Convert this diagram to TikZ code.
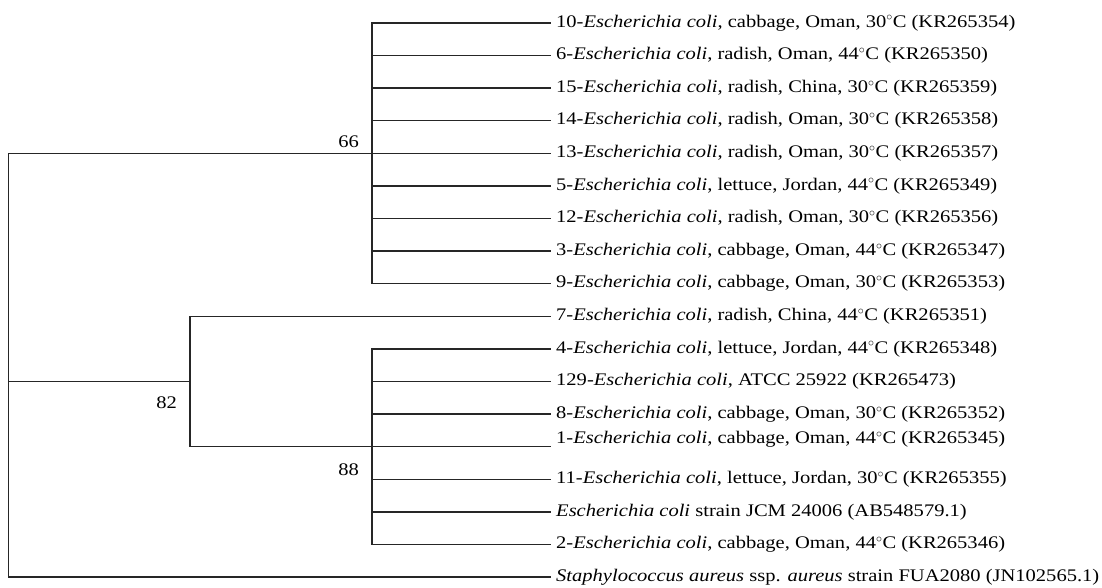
\documentclass[tikz,border=0pt]{standalone}
\usepackage{fontspec}
\setmainfont{Liberation Serif}[FakeStretch=1.16]
\usetikzlibrary{positioning}
\newcommand{\ecoli}{\textit{Escherichia coli}}
\newcommand{\degC}{$^{\circ}$C}

\begin{document}
\begin{tikzpicture}[
  x=1bp, y=-1bp,
  branch/.style={draw=black!85, line width=1.4bp},
  leaf/.style={anchor=west, inner xsep=5bp, inner ysep=0pt,
               font=\fontsize{17.7bp}{20bp}\selectfont},
  boot/.style={anchor=base east, inner sep=0pt,
               font=\fontsize{17.7bp}{20bp}\selectfont}
]
  \useasboundingbox (0,0) rectangle (1102,588);

  % ── Leaves: upper cluster ──
  \node[leaf] (l10) at (551, 22.9) {10-\ecoli, cabbage, Oman, 30\degC\ (KR265354)};
  \node[leaf] (l6)  at (551, 55.5) {6-\ecoli, radish, Oman, 44\degC\ (KR265350)};
  \node[leaf] (l15) at (551, 88.1) {15-\ecoli, radish, China, 30\degC\ (KR265359)};
  \node[leaf] (l14) at (551,120.7) {14-\ecoli, radish, Oman, 30\degC\ (KR265358)};
  \node[leaf] (l13) at (551,153.3) {13-\ecoli, radish, Oman, 30\degC\ (KR265357)};
  \node[leaf] (l5)  at (551,185.9) {5-\ecoli, lettuce, Jordan, 44\degC\ (KR265349)};
  \node[leaf] (l12) at (551,218.5) {12-\ecoli, radish, Oman, 30\degC\ (KR265356)};
  \node[leaf] (l3)  at (551,251.1) {3-\ecoli, cabbage, Oman, 44\degC\ (KR265347)};
  \node[leaf] (l9)  at (551,283.7) {9-\ecoli, cabbage, Oman, 30\degC\ (KR265353)};

  % ── Leaves: lower cluster ──
  \node[leaf] (l7)   at (551,316.3) {7-\ecoli, radish, China, 44\degC\ (KR265351)};
  \node[leaf] (l4)   at (551,348.9) {4-\ecoli, lettuce, Jordan, 44\degC\ (KR265348)};
  \node[leaf] (l129) at (551,381.5) {129-\ecoli, ATCC 25922 (KR265473)};
  \node[leaf] (l8)   at (551,414.1) {8-\ecoli, cabbage, Oman, 30\degC\ (KR265352)};
  \node[leaf, yshift=7bp] (l1) at (551,446.7) {1-\ecoli, cabbage, Oman, 44\degC\ (KR265345)};
  \node[leaf] (l11)  at (551,479.3) {11-\ecoli, lettuce, Jordan, 30\degC\ (KR265355)};
  \node[leaf] (ljcm) at (551,511.9) {\ecoli\ strain JCM 24006 (AB548579.1)};
  \node[leaf] (l2)   at (551,544.5) {2-\ecoli, cabbage, Oman, 44\degC\ (KR265346)};

  % ── Outgroup ──
  \node[leaf] (lsa) at (551,577.1)
    {\textit{Staphylococcus aureus} ssp. \textit{aureus} strain FUA2080 (JN102565.1)};

  % ── Internal nodes ──
  \coordinate (root) at (8.5,381.5);
  \coordinate (n66)  at (372,153.3);
  \coordinate (n82)  at (190,381.5);
  \coordinate (n88)  at (372,446.7);

  % Branches
  \draw[branch] (root) |- (n66);
  \draw[branch] (root) -- (n82);
  \draw[branch] (root) |- (lsa.west);
  \foreach \t in {l10,l6,l15,l14,l13,l5,l12,l3,l9}
    \draw[branch] (n66) |- (\t.west);
  \draw[branch] (n82) |- (l7.west);
  \draw[branch] (n82) |- (n88);
  \foreach \t in {l4,l129,l8,l11,ljcm,l2}
    \draw[branch] (n88) |- (\t.west);
  \draw[branch] (n88) -- (l1.west |- n88);

  % Bootstrap values
  \node[boot] (b66) at (359,148) {66};
  \node[boot] (b82) at (177,408) {82};
  \node[boot] (b88) at (359,475) {88};
\end{tikzpicture}
\end{document}
